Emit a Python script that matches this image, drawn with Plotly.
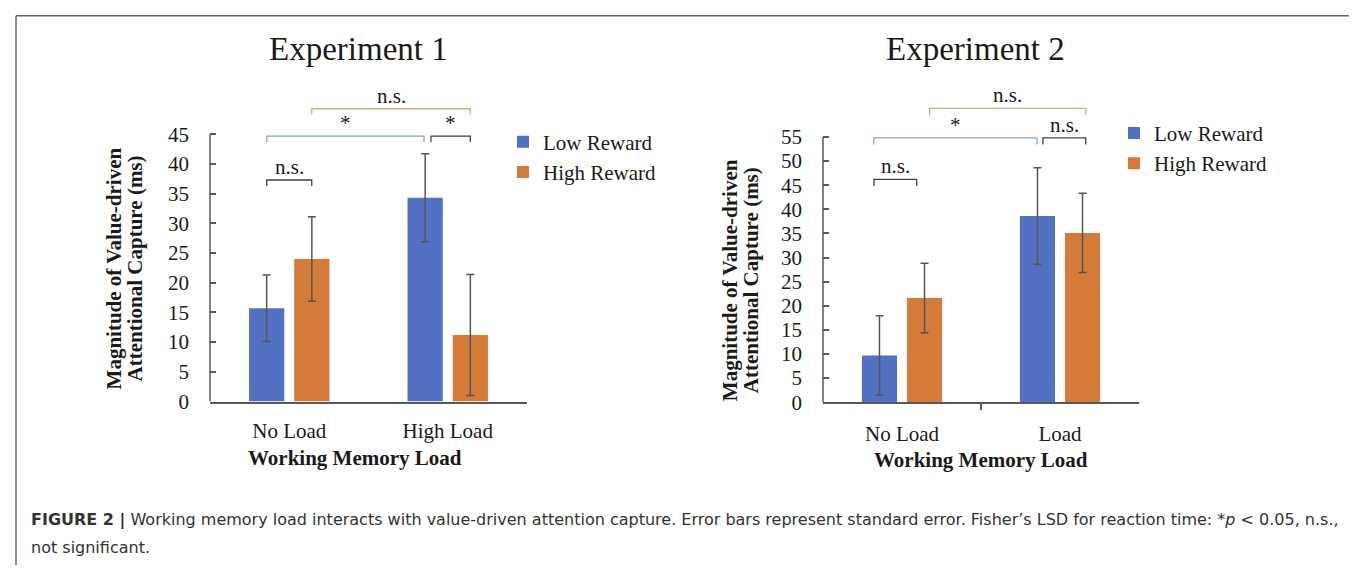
import plotly.graph_objects as go

W, H = 1357, 569

def fx(px):
    return px / W

def fy(py):
    return 1 - py / H

# ---------------- data ----------------
categories_exp1 = ["No Load", "High Load"]
categories_exp2 = ["No Load", "Load"]
series_names = ["Low Reward", "High Reward"]

low_exp1 = [15.7, 34.3]
low_err_exp1 = [5.6, 7.4]
high_exp1 = [24.0, 11.2]
high_err_exp1 = [7.1, 10.2]

low_exp2 = [9.7, 38.6]
low_err_exp2 = [8.2, 10.0]
high_exp2 = [21.6, 35.1]
high_err_exp2 = [7.2, 8.2]

yticks_exp1 = list(range(0, 50, 5))
yticks_exp2 = list(range(0, 60, 5))

# significance brackets: (x start, x end, level, label, colour key)
brackets_exp1 = [
    (-0.142, 0.142, 37.3, "n.s.", "k"),
    (-0.142, 0.850, 44.7, "*", "b"),
    (0.894, 1.142, 44.7, "*", "k"),
    (0.142, 1.142, 49.3, "n.s.", "o"),
]
brackets_exp2 = [
    (-0.177, 0.093, 46.2, "n.s.", "k"),
    (-0.179, 0.854, 54.8, "*", "b"),
    (0.892, 1.163, 54.8, "n.s.", "k"),
    (0.175, 1.163, 60.9, "n.s.", "o"),
]

# ---------------- styles ----------------
BLUE = "#5271C3"
ORANGE = "#D57B39"
BR_COL = {"k": "#404040", "b": "#86A0D8", "o": "#DDAA74"}
AX = "#595959"
SERIF = "Liberation Serif"
TXT = "#1a1a1a"

fig = go.Figure()

charts = [
    dict(cats=categories_exp1, low=low_exp1, lerr=low_err_exp1, high=high_exp1, herr=high_err_exp1,
         xa="x", ya="y", leg="legend"),
    dict(cats=categories_exp2, low=low_exp2, lerr=low_err_exp2, high=high_exp2, herr=high_err_exp2,
         xa="x2", ya="y2", leg="legend2"),
]

for c in charts:
    for name, vals, errs, col in [(series_names[0], c["low"], c["lerr"], BLUE),
                                  (series_names[1], c["high"], c["herr"], ORANGE)]:
        fig.add_trace(go.Bar(
            x=[0, 1], y=vals, name=name, marker=dict(color=col, line=dict(width=0)),
            error_y=dict(type="data", array=errs, visible=True, color="#555555", thickness=1.5, width=4),
            xaxis=c["xa"], yaxis=c["ya"], legend=c["leg"], offsetgroup=name,
        ))

# axes geometry (pixels)
L_X0, L_X1, L_Y0 = 202, 519, 402.0
R_X0, R_X1, R_Y0 = 815, 1131, 402.7
TOP = 80
L_PPU = (402 - 129) / 45.0
R_PPU = (402.7 - 131.7) / 55.0

tickfont = dict(family=SERIF, size=21, color=TXT)

fig.update_layout(
    width=W, height=H, margin=dict(l=0, r=0, t=0, b=0),
    paper_bgcolor="white", plot_bgcolor="white",
    barmode="group", bargap=0.43, bargroupgap=0.22,
    xaxis=dict(domain=[fx(L_X0), fx(L_X1)], range=[-0.5, 1.5], tickvals=[0, 1], ticktext=categories_exp1,
               showline=True, linecolor=AX, linewidth=1.5, showgrid=False, zeroline=False, ticks="",
               tickfont=tickfont, ticklabelstandoff=10, fixedrange=True),
    yaxis=dict(domain=[fy(L_Y0), fy(TOP)], range=[0, (L_Y0 - TOP) / L_PPU], tickvals=yticks_exp1,
               showline=False, showgrid=False, zeroline=False, ticks="inside", ticklen=6, tickwidth=1.5,
               tickcolor=AX, tickfont=tickfont, ticklabelstandoff=20),
    xaxis2=dict(domain=[fx(R_X0), fx(R_X1)], range=[-0.5, 1.5], tickvals=[0, 1], ticktext=categories_exp2,
                showline=True, linecolor=AX, linewidth=1.5, showgrid=False, zeroline=False, ticks="",
                minor=dict(tickvals=[0.5], ticks="outside", ticklen=6, tickwidth=1.5, tickcolor=AX),
                tickfont=tickfont, ticklabelstandoff=12, anchor="y2"),
    yaxis2=dict(domain=[fy(R_Y0), fy(TOP)], range=[0, (R_Y0 - TOP) / R_PPU], tickvals=yticks_exp2,
                showline=False, showgrid=False, zeroline=False, ticks="inside", ticklen=6, tickwidth=1.5,
                tickcolor=AX, tickfont=tickfont, ticklabelstandoff=20, anchor="x2"),
    legend=dict(x=fx(495), y=fy(116), xanchor="left", yanchor="top", bgcolor="rgba(0,0,0,0)",
                font=dict(family=SERIF, size=21, color=TXT), tracegroupgap=0),
    legend2=dict(x=fx(1106), y=fy(107), xanchor="left", yanchor="top", bgcolor="rgba(0,0,0,0)",
                 font=dict(family=SERIF, size=21, color=TXT), tracegroupgap=0),
    showlegend=True,
)

shapes = []
annotations = []

# y axis lines (only up to the top tick)
for xa, ya, ticks in [("x", "y", yticks_exp1), ("x2", "y2", yticks_exp2)]:
    shapes.append(dict(type="line", xref=xa + " domain", yref=ya, x0=0, x1=0, y0=0, y1=ticks[-1],
                       line=dict(color=AX, width=1.5)))

# brackets
for xa, ya, br, drop in [("x", "y", brackets_exp1, 1.0), ("x2", "y2", brackets_exp2, 1.35)]:
    for x0, x1, lv, lab, ck in br:
        shapes.append(dict(type="path", xref=xa, yref=ya,
                           path=f"M {x0},{lv - drop} L {x0},{lv} L {x1},{lv} L {x1},{lv - drop}",
                           line=dict(color=BR_COL[ck], width=1.3)))
        annotations.append(dict(xref=xa, yref=ya, x=(x0 + x1) / 2, y=lv, text=lab, showarrow=False,
                                yanchor="bottom", yshift=-1,
                                font=dict(family=SERIF, size=21, color=TXT)))

# titles
for text, cx in [("Experiment 1", 350.5), ("Experiment 2", 967)]:
    annotations.append(dict(xref="paper", yref="paper", x=fx(cx), y=fy(42), text=text, showarrow=False,
                            xanchor="center", yanchor="middle", font=dict(family=SERIF, size=33, color=TXT)))

# x axis titles
for cx, cy in [(347, 460), (973, 462)]:
    annotations.append(dict(xref="paper", yref="paper", x=fx(cx), y=fy(cy), text="<b>Working Memory Load</b>",
                            showarrow=False, xanchor="center", yanchor="middle",
                            font=dict(family=SERIF, size=21, color=TXT)))

# y axis titles (two lines each)
for (x1c, x2c, cy) in [(106, 127, 266), (722, 743, 278)]:
    annotations.append(dict(xref="paper", yref="paper", x=fx(x1c), y=fy(cy),
                            text="<b>Magnitude of Value-driven</b>", textangle=-90, showarrow=False,
                            xanchor="center", yanchor="middle", font=dict(family=SERIF, size=21, color=TXT)))
    annotations.append(dict(xref="paper", yref="paper", x=fx(x2c), y=fy(cy),
                            text="<b>Attentional Capture (ms)</b>", textangle=-90, showarrow=False,
                            xanchor="center", yanchor="middle", font=dict(family=SERIF, size=21, color=TXT)))

# caption
cap1 = ("<b>FIGURE 2 |</b> Working memory load interacts with value-driven attention capture. "
        "Error bars represent standard error. Fisher\u2019s LSD for reaction time: *<i>p</i> &lt; 0.05, n.s.,")
cap2 = "not significant."
for text, cy in [(cap1, 523), (cap2, 551)]:
    annotations.append(dict(xref="paper", yref="paper", x=fx(21), y=fy(cy), text=text, showarrow=False,
                            xanchor="left", yanchor="middle",
                            font=dict(family="DejaVu Sans", size=16, color="#333333")))

# outer frame
FR = dict(color="#666666", width=1.5)
shapes += [
    dict(type="line", xref="paper", yref="paper", x0=fx(8), x1=fx(8), y0=0, y1=fy(8), line=FR),
    dict(type="line", xref="paper", yref="paper", x0=fx(8), x1=fx(1351), y0=fy(8), y1=fy(8), line=FR),
    dict(type="line", xref="paper", yref="paper", x0=fx(1351), x1=fx(1351), y0=0, y1=fy(8), line=FR),
]

fig.update_layout(shapes=shapes, annotations=annotations)
fig.write_html("out.html")
